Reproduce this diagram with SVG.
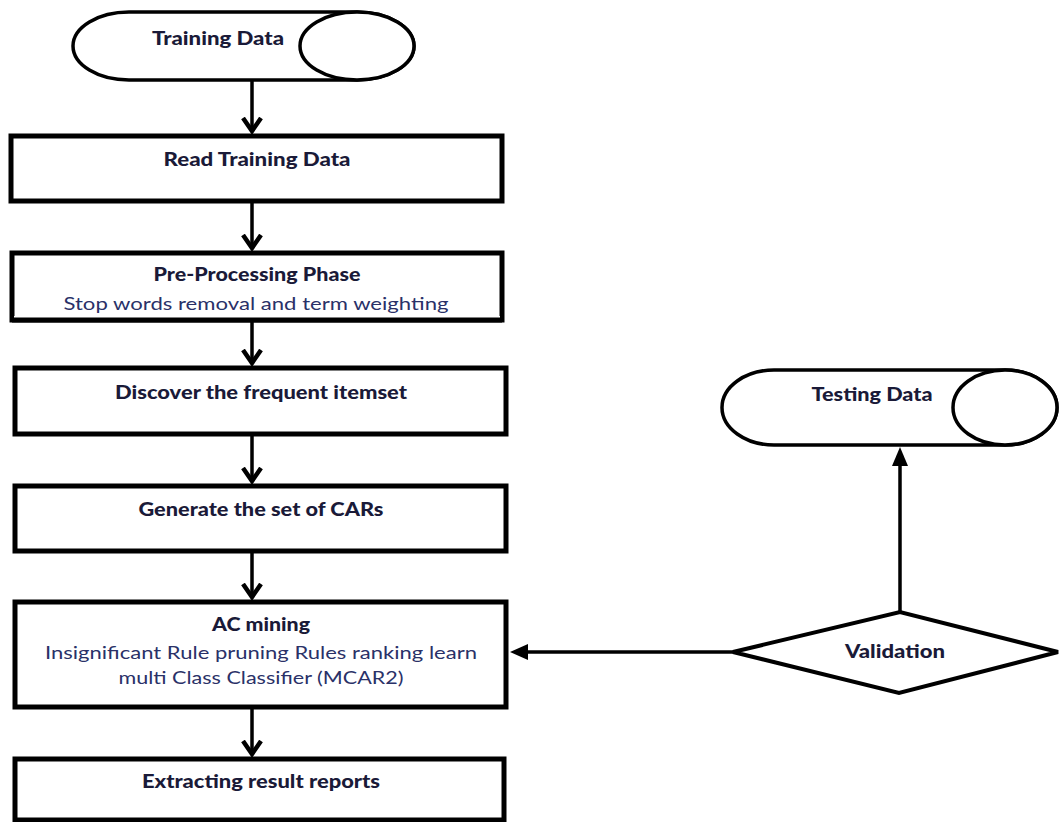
<svg xmlns="http://www.w3.org/2000/svg" width="1060" height="822" viewBox="0 0 1060 822">
<style>
.box{fill:#fff;stroke:#000;stroke-width:5}
.term{fill:#fff;stroke:#000;stroke-width:3.5}
.dia{fill:#fff;stroke:#000;stroke-width:4}
.t{font-family:Lato,"Liberation Sans",sans-serif;font-weight:900;font-size:18px;fill:#1a1a38;text-anchor:middle}
.s{font-family:Lato,"Liberation Sans",sans-serif;font-size:18px;fill:#2a3168;text-anchor:middle}
.c{stroke:#000;stroke-width:3.5;fill:none}
</style>
<defs>
<marker id="open" markerUnits="userSpaceOnUse" markerWidth="30" markerHeight="30" viewBox="-15 -15 30 30" refX="0" refY="0" orient="auto">
<path d="M-14,-9 L-1,0 L-14,9" fill="none" stroke="#000" stroke-width="4.5"/>
</marker>
</defs>
<g id="connectors">
<line class="c" x1="252" y1="80" x2="252" y2="132" marker-end="url(#open)"/>
<line class="c" x1="252" y1="203" x2="252" y2="249" marker-end="url(#open)"/>
<line class="c" x1="252" y1="322" x2="252" y2="364" marker-end="url(#open)"/>
<line class="c" x1="252" y1="436" x2="252" y2="482" marker-end="url(#open)"/>
<line class="c" x1="252" y1="553" x2="252" y2="598" marker-end="url(#open)"/>
<line class="c" x1="252" y1="709" x2="252" y2="755" marker-end="url(#open)"/>
<line class="c" x1="900" y1="612" x2="900" y2="464"/>
<path d="M900,447 L908,466 L892,466 Z" fill="#000"/>
<line class="c" x1="733" y1="652" x2="526" y2="652"/>
<path d="M510,652 L528,644 L528,660 Z" fill="#000"/>
</g>
<g id="training-data">
<path class="term" d="M129,12 H357 A57,34 0 0 1 357,80 H129 A56,34 0 0 1 129,12 Z"/>
<ellipse class="term" cx="357" cy="46" rx="57" ry="34"/>
<text class="t" x="218" y="45" textLength="132" lengthAdjust="spacingAndGlyphs">Training Data</text>
</g>
<g id="read-training">
<rect class="box" x="11" y="136" width="491" height="65"/>
<text class="t" x="257" y="166" textLength="187" lengthAdjust="spacingAndGlyphs">Read Training Data</text>
</g>
<g id="preprocessing">
<rect class="box" x="12" y="253" width="490" height="67"/>
<text class="t" x="257" y="281" textLength="207" lengthAdjust="spacingAndGlyphs">Pre-Processing Phase</text>
<text class="s" x="256" y="310" textLength="385" lengthAdjust="spacingAndGlyphs">Stop words removal and term weighting</text>
<rect x="14" y="316" width="486" height="2" fill="#fff"/>
<line x1="12" y1="320" x2="502" y2="320" stroke="#000" stroke-width="5"/>
</g>
<g id="discover">
<rect class="box" x="15" y="368" width="491" height="66"/>
<text class="t" x="261" y="399" textLength="292" lengthAdjust="spacingAndGlyphs">Discover the frequent itemset</text>
</g>
<g id="generate">
<rect class="box" x="15" y="486" width="491" height="65"/>
<text class="t" x="261" y="516" textLength="245" lengthAdjust="spacingAndGlyphs">Generate the set of CARs</text>
</g>
<g id="ac-mining">
<rect class="box" x="15" y="602" width="491" height="105"/>
<text class="t" x="261" y="631" textLength="98" lengthAdjust="spacingAndGlyphs">AC mining</text>
<text class="s" x="261" y="659" textLength="432" lengthAdjust="spacingAndGlyphs">Insignificant Rule pruning Rules ranking learn</text>
<text class="s" x="261" y="684" textLength="285" lengthAdjust="spacingAndGlyphs">multi Class Classifier (MCAR2)</text>
</g>
<g id="extracting">
<rect class="box" x="15" y="759" width="489" height="61"/>
<text class="t" x="261" y="788" textLength="238" lengthAdjust="spacingAndGlyphs">Extracting result reports</text>
</g>
<g id="testing-data">
<path class="term" d="M774,370 H1005 A52,37.5 0 0 1 1005,445 H774 A52,37.5 0 0 1 774,370 Z"/>
<ellipse class="term" cx="1005" cy="407.5" rx="52" ry="37.5"/>
<text class="t" x="872" y="401" textLength="121" lengthAdjust="spacingAndGlyphs">Testing Data</text>
</g>
<g id="validation">
<polygon class="dia" points="733,652 900,612 1058,652 899,693"/>
<text class="t" x="895" y="658" textLength="100" lengthAdjust="spacingAndGlyphs">Validation</text>
</g>
</svg>
